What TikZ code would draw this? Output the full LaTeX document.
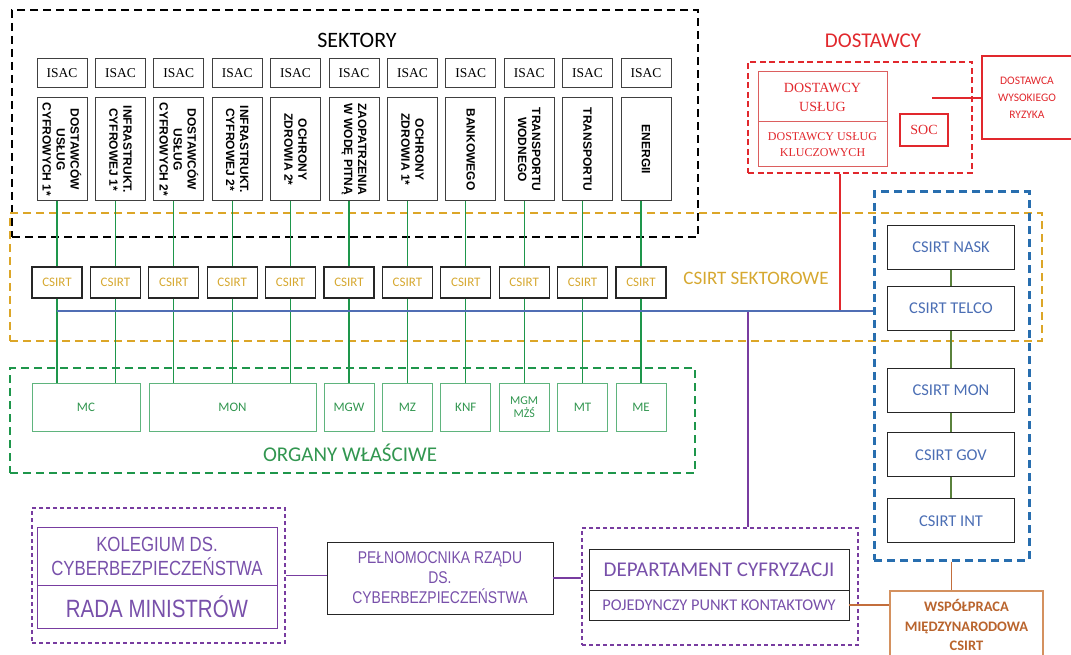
\documentclass[tikz,border=0pt]{standalone}
\usepackage{fontspec}
\setmainfont{Carlito}
\newfontfamily\timesfont{Liberation Serif}
\newfontfamily\arialfont{Liberation Sans}
\newfontfamily\narrowfont[FakeStretch=0.82]{Liberation Sans}
\usepackage{tikz}
\usetikzlibrary{positioning}
\definecolor{csirtyellow}{RGB}{214,168,48}
\definecolor{yellowframe}{RGB}{220,166,40}
\definecolor{sectgreen}{RGB}{30,150,75}
\definecolor{organgreen}{RGB}{95,180,125}
\definecolor{organtext}{RGB}{50,150,80}
\definecolor{busblue}{RGB}{80,110,180}
\definecolor{natblue}{RGB}{75,110,180}
\definecolor{blueframe}{RGB}{40,110,175}
\definecolor{dostred}{RGB}{225,40,45}
\definecolor{lightred}{RGB}{220,95,95}
\definecolor{purpleline}{RGB}{120,60,160}
\definecolor{purpletext}{RGB}{120,80,170}
\definecolor{orangeline}{RGB}{195,110,60}
\definecolor{orangetext}{RGB}{185,100,45}
\definecolor{orangebox}{RGB}{212,145,95}
\definecolor{chaingreen}{RGB}{90,130,60}
\tikzstyle{frame} = [rectangle, inner sep=0pt, line width=2pt, dash pattern=on 8pt off 5pt]
\tikzstyle{isac} = [rectangle, minimum width=50, minimum height=29, draw=black!75, line width=1pt, font=\timesfont\fontsize{13.5}{15}\selectfont]
\tikzstyle{sector} = [rectangle, minimum width=50, minimum height=103, draw=black!75, line width=1pt]
\tikzstyle{sectortext} = [rotate=-90, align=center, inner sep=0pt, font=\arialfont\bfseries\fontsize{12}{14}\selectfont]
\tikzstyle{csirt} = [rectangle, minimum width=50, minimum height=31, draw=black!85, line width=1.1pt, text=csirtyellow, font=\fontsize{13}{15}\selectfont]
\tikzstyle{organ} = [rectangle, minimum width=50, minimum height=48, draw=organgreen, line width=1pt, text=organtext, align=center, font=\fontsize{13}{15}\selectfont]
\tikzstyle{csirtnat} = [rectangle, minimum width=127, minimum height=44, draw=black!85, line width=1.1pt, text=natblue, font=\fontsize{16.5}{19}\selectfont]
\tikzstyle{dostbox} = [rectangle, minimum width=129, outer sep=0pt, draw=lightred, line width=1pt, text=dostred, align=center, font=\timesfont\fontsize{14}{19}\selectfont]
\tikzstyle{rmbox} = [rectangle, minimum width=240, outer sep=0pt, draw=purpleline, line width=1pt, text=purpletext, align=center]
\tikzstyle{plainbox} = [rectangle, outer sep=0pt, draw=black!85, line width=1pt, text=purpletext, align=center]
\tikzstyle{greenline} = [sectgreen, line width=1.3pt]
\tikzstyle{redline} = [dostred, line width=1.5pt]
\tikzstyle{violetline} = [purpleline, line width=1.6pt]
\tikzstyle{brownline} = [orangeline, line width=1.6pt]

\begin{document}
\begin{tikzpicture}[x=1pt, y=-1pt]
    \useasboundingbox (0,0) rectangle (1071,655);

    % groups
    \node[frame, draw=black, minimum width=686, minimum height=227]              (sektory frame) at (355,123.5) {};
    \node[frame, draw=yellowframe, line width=1.8pt, minimum width=1032, minimum height=128] (csirt frame) at (526,277) {};
    \node[frame, draw=sectgreen, line width=1.8pt, minimum width=685, minimum height=105]    (organ frame) at (352.5,420.5) {};
    \node[frame, draw=dostred, dash pattern=on 6pt off 3.5pt, minimum width=224, minimum height=111] (dost frame) at (860,117.5) {};
    \node[frame, draw=blueframe, line width=3pt, minimum width=155, minimum height=368] (blue frame) at (951.5,376) {};
    \node[frame, draw=purpleline, line width=1.6pt, dash pattern=on 4pt off 3pt, minimum width=253, minimum height=135] (rm frame) at (158.5,575.5) {};
    \node[frame, draw=purpleline, line width=1.6pt, dash pattern=on 4pt off 3pt, minimum width=276, minimum height=117] (dept frame) at (720,586.5) {};

    \node[font=\fontsize{22}{24}\selectfont]                  (sektory title) at (357,40)  {SEKTORY};
    \node[font=\fontsize{21}{24}\selectfont, text=dostred]    (dost title)    at (873,41)  {DOSTAWCY};
    \node[font=\fontsize{19}{22}\selectfont, text=csirtyellow] (csirt title)  at (756,278) {CSIRT SEKTOROWE};
    \node[font=\fontsize{21}{24}\selectfont, text=organtext]  (organ title)   at (350,453) {ORGANY WŁAŚCIWE};

    % sectors
    \foreach \i/\txt in {1/{DOSTAWCÓW\\USŁUG\\CYFROWYCH 1*}, 2/{INFRASTRUKT.\\CYFROWEJ 1*},
                         3/{DOSTAWCÓW\\USŁUG\\CYFROWYCH 2*}, 4/{INFRASTRUKT.\\CYFROWEJ 2*},
                         5/{OCHRONY\\ZDROWIA 2*}, 6/{ZAOPATRZENIA\\W WODĘ PITNĄ},
                         7/{OCHRONY\\ZDROWIA 1*}, 8/{BANKOWEGO}, 9/{TRANSPORTU\\WODNEGO},
                         10/{TRANSPORTU}, 11/{ENERGII}} {
        \pgfmathsetmacro{\cx}{57+58.4*(\i-1)}
        \node[csirt]                  (csirt \i)  at (\cx,282.5)     {CSIRT};
        \node[sector]                 (sec \i)    at (\cx+5,149.5)   {};
        \node[sectortext]             (sectxt \i) at (sec \i.center) {\txt};
        \node[isac, above=9pt of sec \i] (isac \i) {ISAC};
    }

    % organy
    \node[organ, minimum width=108] (mc)  at (86,407)    {MC};
    \node[organ, minimum width=167] (mon) at (232.5,407) {MON};
    \foreach \k/\n/\t in {6/mgw/MGW, 7/mz/MZ, 8/knf/KNF, 10/mt/MT, 11/me/ME}
        \node[organ] (\n) at (csirt \k |- 0,407) {\t};
    \node[organ, font=\fontsize{12}{13}\selectfont] (mgm) at (csirt 9 |- 0,407) {MGM\\MŻŚ};

    \foreach \i/\org in {1/mc, 2/mc, 3/mon, 4/mon, 5/mon, 6/mgw, 7/mz, 8/knf, 9/mgm, 10/mt, 11/me} {
        \draw[greenline] (csirt \i.north) -- (csirt \i.north |- sec \i.south);
        \draw[greenline] (csirt \i.south) -- (csirt \i.south |- \org.north);
    }

    % csirt poziomu krajowego
    \node[csirtnat]                       (nask)      at (951,247.5) {CSIRT NASK};
    \node[csirtnat, below=16pt of nask]   (telco)     {CSIRT TELCO};
    \node[csirtnat, below=37pt of telco]  (csirt mon) {CSIRT MON};
    \node[csirtnat, below=19pt of csirt mon] (gov)    {CSIRT GOV};
    \node[csirtnat, below=21pt of gov]    (int)       {CSIRT INT};

    \draw[chaingreen, line width=1.2pt] (nask) -- (telco);
    \draw[chaingreen, line width=1.2pt] (telco) -- (csirt mon);
    \draw[chaingreen, line width=1.2pt] (csirt mon) -- (gov);
    \draw[chaingreen, line width=1.2pt] (gov) -- (int);

    % dostawcy
    \node[dostbox, minimum height=50]                   (du)  at (822.5,97) {DOSTAWCY\\USŁUG};
    \node[dostbox, minimum height=45, below=0pt of du, font=\timesfont\fontsize{12}{16}\selectfont] (duk) {DOSTAWCY USŁUG\\KLUCZOWYCH};
    \node[rectangle, minimum width=48, minimum height=32, draw=dostred, line width=1.5pt, text=dostred,
          font=\timesfont\fontsize{14}{16}\selectfont] (soc) at (924,130) {SOC};
    \node[rectangle, minimum width=90, minimum height=83, draw=dostred, line width=1.5pt, text=dostred, align=center,
          font=\fontsize{11.5}{17}\selectfont] (dwr) at (1027,97.5) {DOSTAWCA\\WYSOKIEGO\\RYZYKA};
    \coordinate (soc tap) at (932,98);
    \draw[redline] (soc tap) -- (soc tap -| dwr.west);

    % szyna
    \coordinate (bus) at (57,311);
    \coordinate (red tap) at (840,311);
    \coordinate (cyfr tap) at (748,311);
    \draw[redline] (red tap) -- (red tap |- dost frame.south);
    \draw[violetline] (cyfr tap) -- (cyfr tap |- dept frame.north);
    \draw[busblue, line width=1.6pt] (bus) -- (bus -| blue frame.west);

    % rada ministrow i departament
    \node[rmbox, minimum height=58, font=\narrowfont\fontsize{20.5}{24}\selectfont] (kolegium) at (157,556) {KOLEGIUM DS.\\CYBERBEZPIECZEŃSTWA};
    \node[rmbox, minimum height=43, below=0pt of kolegium, font=\narrowfont\fontsize{25}{28}\selectfont] (rada) {RADA MINISTRÓW};
    \node[plainbox, minimum width=226, minimum height=72, font=\narrowfont\fontsize{17}{20}\selectfont] (pelnom) at (440,578) {PEŁNOMOCNIKA RZĄDU\\DS.\\CYBERBEZPIECZEŃSTWA};
    \node[plainbox, minimum width=260, minimum height=41, font=\fontsize{21}{24}\selectfont] (dept) at (719,569.5) {DEPARTAMENT CYFRYZACJI};
    \node[plainbox, minimum width=260, minimum height=30, below=0pt of dept, font=\fontsize{16.4}{18}\selectfont] (ppk) {POJEDYNCZY PUNKT KONTAKTOWY};
    \node[rectangle, minimum width=153, minimum height=68, draw=orangebox, line width=1.3pt, text=orangetext, align=center,
          font=\bfseries\fontsize{14.5}{19.5}\selectfont] (wsp) at (966.5,625) {WSPÓŁPRACA\\MIĘDZYNARODOWA\\CSIRT};

    \draw[violetline] (rm frame.east) -- (rm frame.east -| pelnom.west);
    \draw[violetline] (pelnom.east) -- (pelnom.east -| dept frame.west);
    \draw[brownline] (blue frame.south) -- (blue frame.south |- wsp.north);
    \draw[brownline] (ppk.east) -- (ppk.east -| wsp.west);
\end{tikzpicture}
\end{document}
